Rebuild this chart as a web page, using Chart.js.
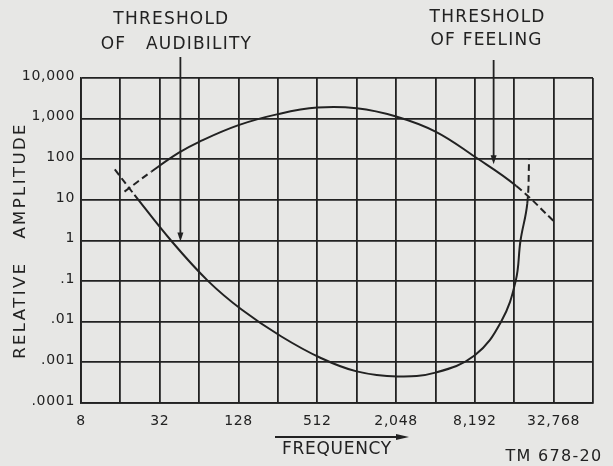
<!DOCTYPE html>
<html>
<head>
<meta charset="utf-8">
<script src="https://cdn.jsdelivr.net/npm/chart.js@4/dist/chart.umd.min.js"></script>
<style>
  html, body { margin: 0; padding: 0; background: #e7e7e5; }
  canvas { display: block; }
</style>
</head>
<body>
<canvas id="chart" width="613" height="466"></canvas>
<script>
// Axis ticks (frequency doubles each gridline, amplitude by decades)
const freqTicks = [8, 16, 32, 64, 128, 256, 512, 1024, 2048, 4096, 8192, 16384, 32768, 65536];
const freqLabels = ['8', '', '32', '', '128', '', '512', '', '2,048', '', '8,192', '', '32,768', ''];
const ampTicks = [0.0001, 0.001, 0.01, 0.1, 1, 10, 100, 1000, 10000];
const ampLabels = ['.0001', '.001', '.01', '.1', '1', '10', '100', '1,000', '10,000'];

// Threshold of audibility (lower U curve)
const audibilityFreq = [14.5, 20.5, 39, 75, 135, 270, 540, 1024, 2100, 4096, 8192, 13000, 16800, 18300, 20600, 21300];
const audibilityAmp = [56, 13.3, 1, 0.1, 0.02, 0.0044, 0.0013, 0.0006, 0.00045, 0.00056, 0.0015, 0.01, 0.1, 1, 8, 100];
const audibilityDashed = [0, 14];

// Threshold of feeling (upper arch)
const feelingFreq = [17.2, 27.7, 44.5, 64, 128, 256, 512, 1024, 2048, 4096, 8192, 17000, 34000];
const feelingAmp = [16, 50, 143, 269, 690, 1290, 1870, 1800, 1130, 480, 115, 22, 2.7];
const feelingDashed = [0, 11];

const INK = '#222222';
const FONT = '"DejaVu Sans", sans-serif';

const toPoints = (xs, ys) => xs.map((x, i) => ({ x: x, y: ys[i] }));

// pointer arrows, callout labels, y title and the plate number
const annotations = {
    id: 'annotations',
    beforeDraw(chart) {
        chart.ctx.letterSpacing = '0.7px';
    },
    afterDatasetsDraw(chart) {
        const ctx = chart.ctx;
        const xs = chart.scales.x, ys = chart.scales.y;
        const area = chart.chartArea;

        ctx.save();
        ctx.fillStyle = INK;
        ctx.strokeStyle = INK;
        ctx.font = '17px ' + FONT;
        ctx.letterSpacing = '1.2px';
        ctx.textAlign = 'center';
        ctx.textBaseline = 'middle';

        // threshold of audibility
        const ax = xs.getPixelForValue(46);
        ctx.fillText('THRESHOLD', ax - 9, 20);
        ctx.fillText('OF   AUDIBILITY', ax - 4, 45);
        drawArrow(ctx, ax, 57, ys.getPixelForValue(0.94));

        // threshold of feeling
        const fx = xs.getPixelForValue(11400);
        ctx.fillText('THRESHOLD', fx - 6, 18);
        ctx.fillText('OF FEELING', fx - 7, 41);
        drawArrow(ctx, fx, 60, ys.getPixelForValue(75));

        // y axis title
        ctx.save();
        ctx.translate(21, (area.top + area.bottom) / 2);
        ctx.rotate(-Math.PI / 2);
        ctx.font = '16.5px ' + FONT;
        ctx.letterSpacing = '2.4px';
        ctx.fillText('RELATIVE   AMPLITUDE', 0, 0);
        ctx.restore();

        // arrow above the x title
        const cx = (area.left + area.right) / 2;
        ctx.lineWidth = 1.8;
        ctx.beginPath();
        ctx.moveTo(cx - 62, 437);
        ctx.lineTo(cx + 66, 437);
        ctx.stroke();
        ctx.beginPath();
        ctx.moveTo(cx + 72, 437);
        ctx.lineTo(cx + 59, 434);
        ctx.lineTo(cx + 59, 440);
        ctx.closePath();
        ctx.fill();

        ctx.font = '16px ' + FONT;
        ctx.letterSpacing = '1.3px';
        ctx.fillText('TM 678-20', 554, 457);
        ctx.restore();
    }
};

function drawArrow(ctx, x, top, tip) {
    ctx.lineWidth = 1.8;
    ctx.beginPath();
    ctx.moveTo(x, top);
    ctx.lineTo(x, tip - 4);
    ctx.stroke();
    ctx.beginPath();
    ctx.moveTo(x, tip);
    ctx.lineTo(x - 3, tip - 9);
    ctx.lineTo(x + 3, tip - 9);
    ctx.closePath();
    ctx.fill();
}

const curveStyle = {
    borderColor: INK,
    borderWidth: 2,
    pointRadius: 0,
    tension: 0.4
};

const ctx = document.getElementById('chart').getContext('2d');
new Chart(ctx, {
    type: 'line',
    data: {
        datasets: [{
            ...curveStyle,
            label: 'Threshold of audibility',
            data: toPoints(audibilityFreq, audibilityAmp),
            segment: {
                borderDash: c => audibilityDashed.includes(c.p0DataIndex) ? [7, 4] : undefined
            }
        }, {
            ...curveStyle,
            label: 'Threshold of feeling',
            data: toPoints(feelingFreq, feelingAmp),
            segment: {
                borderDash: c => feelingDashed.includes(c.p0DataIndex) ? [7, 4] : undefined
            }
        }]
    },
    options: {
        responsive: false,
        animation: false,
        layout: { padding: { left: 0, right: 20, top: 78, bottom: 0 } },
        plugins: {
            legend: { display: false },
            tooltip: { enabled: false }
        },
        scales: {
            x: {
                type: 'logarithmic',
                min: 8,
                max: 65536,
                afterBuildTicks: scale => { scale.ticks = freqTicks.map(v => ({ value: v })); },
                afterFit: scale => { scale.height = 63; },
                grid: { color: INK, lineWidth: 1.8, drawTicks: false },
                border: { color: INK, width: 1.8 },
                ticks: {
                    autoSkip: false,
                    maxRotation: 0,
                    padding: 10,
                    color: INK,
                    font: { family: FONT, size: 14 },
                    callback: (v, i) => freqLabels[i]
                },
                title: {
                    display: true,
                    text: 'FREQUENCY',
                    color: INK,
                    font: { family: FONT, size: 17 },
                    padding: { top: 0, bottom: 6 }
                }
            },
            y: {
                type: 'logarithmic',
                min: 0.0001,
                max: 10000,
                afterBuildTicks: scale => { scale.ticks = ampTicks.map(v => ({ value: v })); },
                afterFit: scale => { scale.width = 81; },
                grid: { color: INK, lineWidth: 1.8, drawTicks: false },
                border: { color: INK, width: 1.8 },
                ticks: {
                    padding: 6,
                    labelOffset: -2,
                    color: INK,
                    font: { family: FONT, size: 14 },
                    callback: (v, i) => ampLabels[i]
                }
            }
        }
    },
    plugins: [annotations]
});
</script>
</body>
</html>
